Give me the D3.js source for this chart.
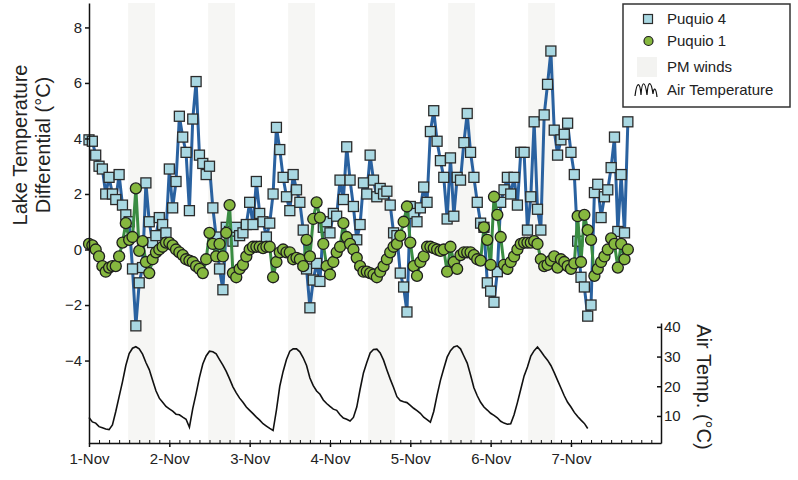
<!DOCTYPE html>
<html>
<head>
<meta charset="utf-8">
<script src="https://cdn.jsdelivr.net/npm/d3@7"></script>
<style>
  body { margin: 0; background: #fff; }
  svg { font-family: "Liberation Sans", Arial, sans-serif; }
</style>
</head>
<body>
<div id="chart"></div>
<script>
// hourly readings starting 1-Nov 00:00
const start = new Date(2015, 10, 1);

const puquio4 = [3.95, 3.9, 3.4, 3.0, 2.9, 2.0, 2.6, 2.0, 1.8, 2.7,
  1.6, 1.25, 1.0, -0.7, -2.75, -1.2, -0.65, 2.4, 1.0, 0.25,
  0.5, 1.15, 0.9, 0.6, 2.9, 1.5, 2.45, 4.8, 4.05, 3.5,
  1.4, 4.7, 6.05, 3.4, 3.1, 2.7, 3.0, 1.5, 0.45, -0.7,
  -1.45, 0.8, 0.65, 0.3, 0.8, 0.5, 0.6, 0.9, 1.7, 0.9,
  2.45, 1.3, 1.0, 0.45, 0.95, 2.0, 4.4, 3.6, 2.6, 1.9,
  1.4, 2.7, 2.15, 1.7, 0.7, -0.7, -2.1, -1.1, -0.5, -1.15,
  0.8, 1.0, 0.6, 1.3, 1.2, 2.5, 1.8, 3.7, 2.5, 1.55,
  0.35, 0.9, 2.4, 2.0, 3.4, 2.5, 1.9, 2.2, 2.0, 2.1,
  1.6, 0.6, 0.5, -0.85, -1.35, -2.25, 1.55, 1.3, 1.0, 1.5,
  2.25, 1.7, 4.25, 5.0, 3.9, 3.2, 2.6, 1.1, 3.3, 1.2,
  2.6, 2.5, 3.85, 4.9, 3.5, 2.6, 1.7, 0.95, 0.8, -1.2,
  -1.5, -1.9, -0.8, 1.7, 2.15, 2.6, 2.0, 2.6, 1.6, 3.5,
  3.5, 0.7, 1.9, 4.6, 1.45, 0.7, 4.85, 5.95, 7.15, 4.3,
  3.4, 3.95, 4.15, 4.55, 3.5, 2.7, 0.3, -1.0, -1.35, -2.4,
  -2.0, 2.05, 2.35, 1.15, 1.9, 2.15, 2.95, 4.05, 0.65, 2.7,
  0.6, 4.6];

const puquio1 = [0.2, 0.15, 0.0, -0.25, -0.6, -0.8, -0.65, -0.6, -0.6, -0.25,
  0.25, 0.95, 0.35, 0.45, 2.2, -0.05, 0.3, -0.45, -0.85, -0.35,
  -0.1, 0.0, 0.1, 0.25, 0.25, 0.15, 0.0, -0.1, -0.2, -0.35,
  -0.4, -0.45, -0.6, -0.7, -0.85, -0.35, 0.6, 0.2, -0.25, 0.2,
  -0.25, 0.6, 1.6, -0.85, -1.0, -0.7, -0.55, -0.25, 0.0, 0.1,
  0.1, 0.1, 0.05, 0.1, 0.1, -1.0, -0.45, -0.1, 0.0, -0.1,
  -0.1, -0.35, -0.3, -0.35, -0.6, 0.35, -0.25, 1.1, 1.7, 1.15,
  0.2, -0.6, -0.9, -0.45, -0.1, 0.1, 0.95, 0.45, 0.2, 0.0,
  -0.3, -0.6, -0.8, -0.8, -0.85, -0.9, -1.0, -0.8, -0.6, -0.35,
  -0.1, 0.1, 0.2, 0.5, 1.0, 1.55, 0.25, -0.6, -0.95, -0.45,
  -0.25, 0.1, 0.1, 0.05, 0.0, -0.05, 0.0, -0.8, 0.1, -0.45,
  -0.7, -0.2, -0.1, -0.1, -0.1, -0.2, -0.35, -0.4, 0.8, 0.35,
  -0.55, 1.9, 1.25, 0.45, -0.55, -0.7, -0.45, -0.25, 0.0, 0.2,
  0.25, 0.25, 0.25, 0.3, 0.2, -0.35, -0.6, -0.55, -0.4, -0.25,
  -0.65, -0.35, -0.45, -0.6, -0.7, -0.5, 1.2, -0.45, 1.25, 0.7,
  0.35, -0.95, -0.7, -0.45, -0.25, 0.0, 0.4, 0.2, -0.65, 0.2,
  -0.35, 0.0];

const airTemp = [9.5, 8.0, 7.6, 6.4, 6.0, 5.6, 5.4, 7.0, 11.5, 16.5,
  21.5, 27.0, 31.0, 32.8, 33.3, 32.6, 30.8, 28.0, 25.6, 22.0,
  18.5, 16.0, 14.6, 13.2, 12.4, 11.6, 10.6, 10.4, 9.6, 8.9,
  6.2, 12.5, 17.5, 23.0, 27.5, 30.2, 31.8, 31.6, 30.9, 29.0,
  27.1, 25.0, 22.5, 19.8, 17.8, 16.0, 14.6, 13.0, 11.9, 10.8,
  9.6, 8.6, 7.4, 6.6, 5.8, 5.1, 12.0, 20.0, 25.0, 29.0,
  31.8, 32.6, 32.6, 31.6, 29.6, 27.0, 22.8, 20.2, 18.4, 17.3,
  15.4, 14.2, 13.2, 12.3, 11.9, 10.4, 9.3, 8.9, 8.3, 9.5,
  13.0, 19.0, 24.5, 28.0, 31.2, 32.4, 32.5, 31.2, 28.8, 25.5,
  22.4, 19.6, 16.5, 15.2, 14.8, 14.5, 13.6, 12.6, 11.8, 10.9,
  9.6, 8.8, 7.9, 11.5, 17.0, 22.0, 26.0, 29.8, 32.0, 33.2,
  33.6, 32.6, 30.2, 27.8, 23.8, 19.5, 16.8, 14.6, 13.0, 12.0,
  10.9, 10.2, 9.4, 8.2, 7.6, 7.2, 7.4, 10.4, 14.5, 19.0,
  23.5, 26.5, 30.2, 32.0, 33.2, 31.8, 30.2, 28.8, 27.0, 24.6,
  22.0, 19.4, 16.8, 14.6, 13.0, 11.2, 9.8, 8.6, 7.5, 5.8];

// afternoon wind periods, hours after start
const pmWinds = [[11.7, 19.7], [35.6, 43.6], [59.5, 67.5], [83.4, 91.4], [107.3, 115.3], [131.2, 139.2]];

const leftTicks = [-4, -2, 0, 2, 4, 6, 8];
const rightTicks = [10, 20, 30, 40];
const dayTicks = d3.range(0, 7).map(d => d3.timeDay.offset(start, d));

const legendItems = ["Puquio 4", "Puquio 1", "PM winds", "Air Temperature"];

const width = 798, height = 480;
const plotLeft = 89, plotRight = 661, plotTop = 3, plotBottom = 443;

const hour = i => d3.timeMinute.offset(start, Math.round(i * 60));

const x = d3.scaleTime()
    .domain([start, hour(170.9)])
    .range([plotLeft, plotRight]);
const y = d3.scaleLinear().domain([-6.97, 8.88]).range([plotBottom, plotTop]);
const yAir = d3.scaleLinear().domain([0.9, 41.3]).range([plotBottom, 323]);

const svg = d3.select("#chart").append("svg")
    .attr("width", width)
    .attr("height", height);

svg.append("rect").attr("width", width).attr("height", height).attr("fill", "#fff");

// PM wind bands
svg.append("g").selectAll("rect")
    .data(pmWinds)
    .join("rect")
    .attr("x", d => x(hour(d[0])))
    .attr("width", d => x(hour(d[1])) - x(hour(d[0])))
    .attr("y", plotTop)
    .attr("height", plotBottom - plotTop)
    .attr("fill", "#f6f6f4");

// air temperature
const airLine = d3.line()
    .x((d, i) => x(hour(i)))
    .y(d => yAir(d));
svg.append("path")
    .attr("d", airLine(airTemp))
    .attr("fill", "none")
    .attr("stroke", "#111")
    .attr("stroke-width", 1.6);

const diffLine = d3.line()
    .x((d, i) => x(hour(i)))
    .y(d => y(d));

// Puquio 4
svg.append("path")
    .attr("d", diffLine(puquio4))
    .attr("fill", "none")
    .attr("stroke", "#2a62a0")
    .attr("stroke-width", 3);
svg.append("g").selectAll("rect")
    .data(puquio4)
    .join("rect")
    .attr("x", (d, i) => x(hour(i)) - 5)
    .attr("y", d => y(d) - 5)
    .attr("width", 10)
    .attr("height", 10)
    .attr("fill", "#a9d8e2")
    .attr("stroke", "#2b2b2b")
    .attr("stroke-width", 1.3);

// Puquio 1
svg.append("path")
    .attr("d", diffLine(puquio1))
    .attr("fill", "none")
    .attr("stroke", "#3a8c42")
    .attr("stroke-width", 3);
svg.append("g").selectAll("circle")
    .data(puquio1)
    .join("circle")
    .attr("cx", (d, i) => x(hour(i)))
    .attr("cy", d => y(d))
    .attr("r", 5.5)
    .attr("fill", "#86b83f")
    .attr("stroke", "#1e1e1e")
    .attr("stroke-width", 1.3);

// axes
const styleAxis = g => {
    g.selectAll("path, line").attr("stroke", "#111").attr("stroke-width", 1.5);
    g.selectAll("text").attr("fill", "#222").style("font-size", "15px");
    g.attr("font-family", null);
};

svg.append("g")
    .attr("transform", `translate(${plotLeft},0)`)
    .call(d3.axisLeft(y).tickValues(leftTicks).tickSize(4).tickSizeOuter(0).tickPadding(3))
    .call(styleAxis);

svg.append("g")
    .attr("transform", `translate(0,${plotBottom})`)
    .call(d3.axisBottom(x).ticks(d3.timeHour.every(3)).tickSize(-3).tickSizeOuter(0).tickFormat(""))
    .call(g => g.select(".domain").remove())
    .call(g => g.selectAll("line").attr("stroke", "#111").attr("stroke-width", 1));

svg.append("g")
    .attr("transform", `translate(0,${plotBottom})`)
    .call(d3.axisBottom(x).tickValues(dayTicks).tickFormat(d3.timeFormat("%-d-%b")).tickSize(4).tickSizeOuter(0).tickPadding(6))
    .call(styleAxis);

svg.append("g")
    .attr("transform", `translate(${plotRight},0)`)
    .call(d3.axisRight(yAir).tickValues(rightTicks).tickSize(-4).tickSizeOuter(0).tickPadding(3))
    .call(styleAxis);

// axis titles
const yTitle = svg.append("text")
    .attr("transform", "translate(31,145) rotate(-90)")
    .attr("text-anchor", "middle")
    .attr("fill", "#222")
    .style("font-size", "20px");
yTitle.append("tspan").attr("x", 0).attr("dy", "-0.2em").text("Lake Temperature");
yTitle.append("tspan").attr("x", 0).attr("dy", "1.15em").text("Differential (°C)");

svg.append("text")
    .attr("transform", "translate(697,387) rotate(90)")
    .attr("text-anchor", "middle")
    .attr("fill", "#222")
    .style("font-size", "20px")
    .text("Air Temp. (°C)");

// legend
const legend = svg.append("g").attr("transform", "translate(623,4)");
legend.append("rect")
    .attr("width", 167)
    .attr("height", 103)
    .attr("fill", "#fff")
    .attr("stroke", "#333")
    .attr("stroke-width", 1.5);

const rowY = [15, 37, 63, 86];
legend.selectAll("text.item")
    .data(legendItems)
    .join("text")
    .attr("class", "item")
    .attr("x", 44)
    .attr("y", (d, i) => rowY[i])
    .attr("dy", "0.35em")
    .attr("fill", "#222")
    .style("font-size", "15px")
    .text(d => d);

legend.append("rect")
    .attr("x", 20.5).attr("y", rowY[0] - 4.5)
    .attr("width", 9).attr("height", 9)
    .attr("fill", "#a9d8e2").attr("stroke", "#2b2b2b").attr("stroke-width", 1.2);
legend.append("circle")
    .attr("cx", 25.5).attr("cy", rowY[1])
    .attr("r", 4.5)
    .attr("fill", "#86b83f").attr("stroke", "#1e1e1e").attr("stroke-width", 1.2);
legend.append("rect")
    .attr("x", 14).attr("y", rowY[2] - 10)
    .attr("width", 20).attr("height", 20)
    .attr("fill", "#f3f3f1");
legend.append("path")
    .attr("d", `M12,${rowY[3] + 6} C14,${rowY[3] - 10} 17,${rowY[3] - 8} 18,${rowY[3] + 5}
        C19,${rowY[3] - 10} 22,${rowY[3] - 10} 24,${rowY[3] + 5}
        C25,${rowY[3] - 10} 28,${rowY[3] - 10} 30,${rowY[3] + 4}
        C31,${rowY[3] - 4} 33,${rowY[3] - 2} 34,${rowY[3] + 7}`)
    .attr("fill", "none")
    .attr("stroke", "#111")
    .attr("stroke-width", 1.2);
</script>
</body>
</html>
